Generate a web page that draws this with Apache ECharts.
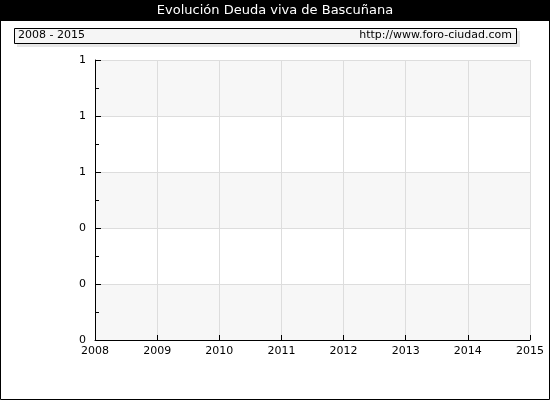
<!DOCTYPE html>
<html>
<head>
<meta charset="utf-8">
<script src="https://cdn.jsdelivr.net/npm/echarts@6/dist/echarts.min.js"></script>
<style>
html,body{margin:0;padding:0;background:#fff;}
#chart{width:550px;height:400px;}
</style>
</head>
<body>
<div id="chart"></div>
<script>
const titleText = "Evolución Deuda viva de Bascuñana";
const periodText = "2008 - 2015";
const sourceText = "http://www.foro-ciudad.com";
const years = [2008, 2009, 2010, 2011, 2012, 2013, 2014, 2015];
const debtValues = [];
const yTicks = [0, 0.2, 0.4, 0.6, 0.8, 1];

const FONT = "DejaVu Sans";
const chart = echarts.init(document.getElementById('chart'), null, {renderer: 'canvas'});
chart.setOption({
  animation: false,
  backgroundColor: '#fff',
  grid: {left: 95, right: 20, top: 60, bottom: 60, containLabel: false},
  xAxis: {
    type: 'value',
    min: years[0], max: years[years.length - 1], interval: 1,
    axisLine: {show: true, onZero: false, lineStyle: {color: '#000', width: 1}},
    axisTick: {show: true, inside: true, length: 5, lineStyle: {color: '#000'}},
    axisLabel: {color: '#000', fontFamily: FONT, fontSize: 11, margin: 6, formatter: v => String(v)},
    splitLine: {show: true, lineStyle: {color: '#dddddd', width: 1}}
  },
  yAxis: {
    type: 'value',
    min: yTicks[0], max: yTicks[yTicks.length - 1], interval: 0.2,
    axisLine: {show: true, lineStyle: {color: '#000', width: 1}},
    axisTick: {show: true, inside: true, length: 6, lineStyle: {color: '#000'}},
    minorTick: {show: true, splitNumber: 2, length: 4, lineStyle: {color: '#000'}},
    axisLabel: {color: '#000', fontFamily: FONT, fontSize: 11, margin: 9, formatter: v => String(Math.round(v))},
    splitLine: {show: true, lineStyle: {color: '#dddddd', width: 1}},
    splitArea: {show: true, areaStyle: {color: ['#f7f7f7', '#ffffff']}}
  },
  series: [{
    type: 'line',
    data: years.map((y, i) => debtValues[i] === undefined ? null : [y, debtValues[i]]),
    symbol: 'none'
  }],
  graphic: [
    {type: 'rect', shape: {x: 0.5, y: 0.5, width: 549, height: 399}, style: {fill: 'none', stroke: '#000', lineWidth: 1}, z: 100},
    {type: 'rect', shape: {x: 0, y: 0, width: 550, height: 21}, style: {fill: '#000'}, z: 100},
    {type: 'text', left: 'center', top: 4, style: {text: titleText, fill: '#fff', font: '13px "DejaVu Sans"'}, z: 101},
    {type: 'rect', shape: {x: 17, y: 31, width: 503, height: 16}, style: {fill: '#e6e6e6'}, z: 100},
    {type: 'rect', shape: {x: 14.5, y: 28.5, width: 502, height: 15}, style: {fill: '#f5f5f5', stroke: '#000', lineWidth: 1}, z: 101},
    {type: 'text', left: 18, top: 30, style: {text: periodText, fill: '#000', font: '11px "DejaVu Sans"'}, z: 102},
    {type: 'text', right: 38, top: 30, style: {text: sourceText, fill: '#000', font: '11px "DejaVu Sans"'}, z: 102}
  ]
});
</script>
</body>
</html>
